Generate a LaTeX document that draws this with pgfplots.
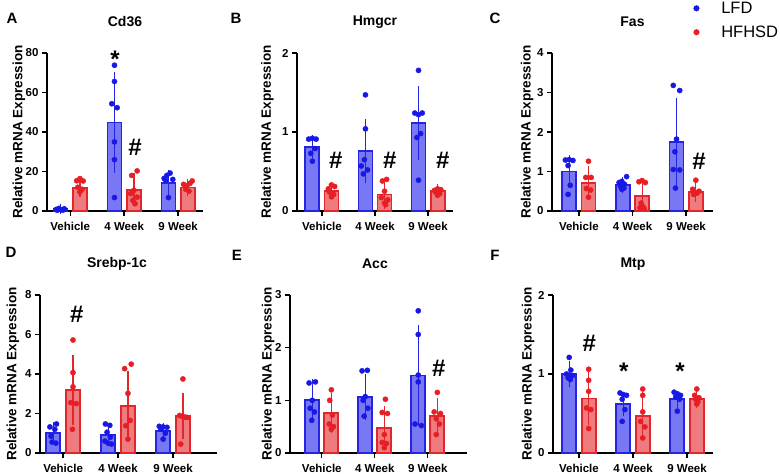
\documentclass[border=0pt]{standalone}
\usepackage{fontspec}
\setmainfont{Liberation Sans}
\usepackage{pgfplots}
\pgfplotsset{compat=1.18}
\definecolor{lfdE}{HTML}{2424E2}
\definecolor{lfdF}{HTML}{7878F4}
\definecolor{lfdP}{HTML}{1818E6}
\definecolor{hfE}{HTML}{E2262C}
\definecolor{hfF}{HTML}{EE7C7E}
\definecolor{hfP}{HTML}{E81E25}
\tikzset{sig/.style={font=\bfseries\fontsize{24}{24}\selectfont, anchor=center}}
\pgfplotsset{
  panel/.style={
    scale only axis, height=158pt, anchor=south west,
    axis x line*=bottom, axis y line*=left,
    axis line style={line width=1.4pt, black},
    tick style={line width=1.4pt, black}, tick align=outside, major tick length=5pt,
    xtick={0,1,2}, xticklabels={Vehicle,4 Week,9 Week},
    ymin=0, clip=false,
    ticklabel style={font=\bfseries\fontsize{11.5}{12}\selectfont},
    xticklabel style={yshift=-3pt},
    /pgf/number format/assume math mode=true,
    ylabel={Relative mRNA Expression},
    ylabel style={font=\bfseries\fontsize{13.5}{14}\selectfont, anchor=center},
    title style={font=\bfseries\fontsize{14}{15}\selectfont, anchor=center},
  },
  lfdbar/.style={ybar, bar width=14pt, bar shift=0pt, fill=lfdF, draw=lfdE, line width=1.8pt, forget plot,
    error bars/.cd, y dir=both, y explicit, error bar style={line width=1.2pt, lfdE},
    error mark options={line width=1.2pt, mark size=4pt, lfdE}},
  hfbar/.style={ybar, bar width=14pt, bar shift=0pt, fill=hfF, draw=hfE, line width=1.8pt, forget plot,
    error bars/.cd, y dir=both, y explicit, error bar style={line width=1.2pt, hfE},
    error mark options={line width=1.2pt, mark size=4pt, hfE}},
  lfdpts/.style={only marks, mark=*, mark size=2.6pt, lfdP, forget plot},
  hfpts/.style={only marks, mark=*, mark size=2.6pt, hfP, forget plot},
}
\begin{document}
\begin{tikzpicture}
\useasboundingbox (0,0) rectangle (780pt,474pt);
% ---------------- A: Cd36
\begin{axis}[panel, at={(47pt,263pt)}, width=156pt, xmin=-0.43, xmax=2.46, ymax=80, ytick={0,20,40,60,80},
  title={Cd36}, title style={at={(axis description cs:0.5,1)}, yshift=25pt},
  ylabel style={at={(axis description cs:-0.18,0.5)}}]
\addplot[lfdbar] coordinates {(-0.18,1.0) +- (0,0.6) (0.82,44.8) +- (0,23.5) (1.82,14.3) +- (0,4.2)};
\addplot[hfbar] coordinates {(0.18,11.8) +- (0,2.5) (1.18,10.8) +- (0,6.4) (2.18,11.9) +- (0,2.4)};
\addplot[lfdpts] coordinates {(-0.26,0.8) (-0.21,1.3) (-0.16,0.6) (-0.11,1.1) (-0.24,0.4) (-0.13,0.5)
  (0.82,73.8) (0.82,65.6) (0.77,54.3) (0.87,52.3) (0.82,35) (0.82,26) (0.82,6.8)
  (1.74,16.5) (1.79,18) (1.85,19.2) (1.9,16) (1.77,15.5) (1.82,6.8)};
\addplot[hfpts] coordinates {(0.12,15.3) (0.18,16.4) (0.24,15.2) (0.14,12) (0.22,11) (0.18,9.6)
  (1.24,20.3) (1.14,18) (1.18,10.5) (1.12,8.8) (1.24,7) (1.16,5.4) (1.2,3.7)
  (2.1,13.5) (2.16,12.8) (2.22,14) (2.26,15.2) (2.14,11) (2.2,10)};
\node[sig] at (axis cs:0.83,77) {*};
\node[sig] at (axis cs:1.2,32) {\#};
\end{axis}
% ---------------- B: Hmgcr
\begin{axis}[panel, at={(297pt,263pt)}, width=156pt, xmin=-0.47, xmax=2.47, ymax=2, ytick={0,1,2},
  title={Hmgcr}, title style={at={(axis description cs:0.5,1)}, yshift=25pt},
  ylabel style={at={(axis description cs:-0.19,0.5)}}]
\addplot[lfdbar] coordinates {(-0.18,0.81) +- (0,0.10) (0.82,0.76) +- (0,0.36) (1.82,1.11) +- (0,0.42)};
\addplot[hfbar] coordinates {(0.18,0.25) +- (0,0.05) (1.18,0.21) +- (0,0.13) (2.18,0.25) +- (0,0.04)};
\addplot[lfdpts] coordinates {(-0.25,0.91) (-0.18,0.92) (-0.11,0.91) (-0.21,0.73) (-0.18,0.63) (-0.13,0.79)
  (0.82,1.47) (0.82,1.04) (0.8,0.65) (0.74,0.57) (0.86,0.52) (0.78,0.47)
  (1.82,1.78) (1.75,1.24) (1.82,1.22) (1.89,1.24) (1.79,0.93) (1.86,0.98) (1.82,0.39)};
\addplot[hfpts] coordinates {(0.12,0.28) (0.18,0.33) (0.24,0.31) (0.14,0.24) (0.22,0.21) (0.18,0.18)
  (1.14,0.38) (1.22,0.40) (1.18,0.25) (1.12,0.17) (1.24,0.14) (1.18,0.1) (1.2,0.08)
  (2.12,0.26) (2.18,0.28) (2.24,0.27) (2.14,0.24) (2.22,0.22) (2.18,0.2)};
\node[sig] at (axis cs:0.26,0.64) {\#};
\node[sig] at (axis cs:1.28,0.64) {\#};
\node[sig] at (axis cs:2.28,0.64) {\#};
\end{axis}
% ---------------- C: Fas
\begin{axis}[panel, at={(552pt,263pt)}, width=161pt, xmin=-0.5, xmax=2.5, ymax=4, ytick={0,1,2,3,4},
  title={Fas}, title style={at={(axis description cs:0.5,1)}, yshift=25pt},
  ylabel style={at={(axis description cs:-0.155,0.5)}},
  legend style={at={(0.86,1.35)}, anchor=north west, draw=none, fill=none,
    font=\fontsize{16.5}{17}\selectfont, row sep=7pt, legend cell align=left,
    /tikz/every odd column/.append style={column sep=20pt}}]
\addlegendimage{only marks, mark=*, mark size=2.8pt, lfdP}
\addlegendentry{LFD}
\addlegendimage{only marks, mark=*, mark size=2.8pt, hfP}
\addlegendentry{HFHSD}
\addplot[lfdbar] coordinates {(-0.18,1.0) +- (0,0.31) (0.82,0.65) +- (0,0.1) (1.82,1.75) +- (0,1.01)};
\addplot[hfbar] coordinates {(0.18,0.71) +- (0,0.33) (1.18,0.38) +- (0,0.24) (2.18,0.48) +- (0,0.15)};
\addplot[lfdpts] coordinates {(-0.25,1.29) (-0.18,1.30) (-0.11,1.28) (-0.2,1.15) (-0.16,0.65) (-0.2,0.42)
  (0.75,0.72) (0.8,0.75) (0.89,0.87) (0.85,0.68) (0.78,0.62) (0.84,0.58) (0.8,0.55)
  (1.76,3.18) (1.88,3.05) (1.82,1.82) (1.79,1.5) (1.76,1.05) (1.88,1.04) (1.8,0.58)};
\addplot[hfpts] coordinates {(0.18,1.26) (0.13,0.85) (0.23,0.85) (0.14,0.57) (0.22,0.53) (0.18,0.35)
  (1.12,0.74) (1.18,0.77) (1.24,0.72) (1.16,0.2) (1.2,0.1) (1.14,0.08) (1.22,0.05)
  (2.18,0.78) (2.12,0.55) (2.24,0.5) (2.16,0.48) (2.2,0.45) (2.14,0.42)};
\node[sig] at (axis cs:2.24,1.25) {\#};
\end{axis}
% ---------------- D: Srebp-1c
\begin{axis}[panel, at={(40pt,21pt)}, width=177pt, xmin=-0.42, xmax=2.8, ymax=8, ytick={0,2,4,6,8},
  title={Srebp-1c}, title style={at={(axis description cs:0.435,1)}, yshift=25pt},
  ylabel style={at={(axis description cs:-0.153,0.5)}}]
\addplot[lfdbar] coordinates {(-0.18,1.0) +- (0,0.35) (0.82,0.9) +- (0,0.35) (1.82,1.1) +- (0,0.2)};
\addplot[hfbar] coordinates {(0.18,3.2) +- (0,1.58) (1.18,2.38) +- (0,1.55) (2.18,1.88) +- (0,0.97)};
\addplot[lfdpts] coordinates {(-0.24,1.32) (-0.12,1.47) (-0.15,1.2) (-0.22,0.85) (-0.2,0.55) (-0.13,0.5)
  (0.77,1.47) (0.85,1.4) (0.8,1.05) (0.86,0.8) (0.76,0.6) (0.82,0.5) (0.88,0.45)
  (1.75,1.35) (1.82,1.32) (1.89,1.3) (1.78,1.2) (1.86,1.0) (1.82,0.7)};
\addplot[hfpts] coordinates {(0.18,5.72) (0.18,4.07) (0.18,3.35) (0.14,2.55) (0.24,2.5) (0.17,1.2)
  (1.12,4.27) (1.24,4.5) (1.18,3.02) (1.22,1.65) (1.14,1.38) (1.18,0.7)
  (2.18,3.75) (2.12,1.9) (2.17,1.85) (2.22,1.82) (2.26,1.8) (2.14,0.45)};
\node[sig] at (axis cs:0.25,7.0) {\#};
\end{axis}
% ---------------- E: Acc
\begin{axis}[panel, at={(290pt,21pt)}, width=177pt, xmin=-0.6, xmax=2.74, ymax=3, ytick={0,1,2,3},
  title={Acc}, title style={at={(axis description cs:0.48,1)}, yshift=25pt},
  ylabel style={at={(axis description cs:-0.124,0.5)}}]
\addplot[lfdbar] coordinates {(-0.18,1.0) +- (0,0.33) (0.82,1.07) +- (0,0.36) (1.82,1.47) +- (0,0.88)};
\addplot[hfbar] coordinates {(0.18,0.76) +- (0,0.31) (1.18,0.48) +- (0,0.34) (2.18,0.7) +- (0,0.26)};
\addplot[lfdpts] coordinates {(-0.24,1.33) (-0.12,1.35) (-0.18,1.0) (-0.22,0.85) (-0.14,0.78) (-0.19,0.62)
  (0.76,1.56) (0.86,1.57) (0.82,1.07) (0.78,1.0) (0.87,0.85) (0.8,0.7)
  (1.82,2.7) (1.82,2.25) (1.82,1.48) (1.82,1.35) (1.76,0.55) (1.88,0.52)};
\addplot[hfpts] coordinates {(0.18,1.2) (0.15,1.0) (0.2,0.72) (0.14,0.55) (0.22,0.5) (0.18,0.45)
  (1.2,1.02) (1.14,0.77) (1.24,0.75) (1.18,0.35) (1.14,0.2) (1.22,0.18) (1.18,0.1)
  (2.18,1.15) (2.12,0.78) (2.24,0.75) (2.16,0.65) (2.22,0.55) (2.16,0.35)};
\node[sig] at (axis cs:2.21,1.6) {\#};
\end{axis}
% ---------------- F: Mtp
\begin{axis}[panel, at={(553pt,21pt)}, width=160pt, xmin=-0.48, xmax=2.48, ymax=2, ytick={0,1,2},
  title={Mtp}, title style={at={(axis description cs:0.5,1)}, yshift=25pt},
  ylabel style={at={(axis description cs:-0.156,0.5)}}]
\addplot[lfdbar] coordinates {(-0.18,1.0) +- (0,0.12) (0.82,0.62) +- (0,0.1) (1.82,0.68) +- (0,0.06)};
\addplot[hfbar] coordinates {(0.18,0.69) +- (0,0.28) (1.18,0.47) +- (0,0.25) (2.18,0.68) +- (0,0.06)};
\addplot[lfdpts] coordinates {(-0.18,1.21) (-0.15,1.05) (-0.23,1.0) (-0.12,0.98) (-0.2,0.95) (-0.16,0.93)
  (0.76,0.76) (0.82,0.74) (0.88,0.73) (0.8,0.68) (0.85,0.55) (0.8,0.4)
  (1.76,0.77) (1.82,0.75) (1.88,0.73) (1.79,0.71) (1.86,0.68) (1.82,0.53)};
\addplot[hfpts] coordinates {(0.18,1.06) (0.18,0.92) (0.18,0.78) (0.14,0.57) (0.22,0.55) (0.18,0.31)
  (1.18,0.81) (1.18,0.73) (1.18,0.52) (1.14,0.4) (1.22,0.33) (1.18,0.19)
  (2.18,0.81) (2.14,0.73) (2.22,0.70) (2.16,0.68) (2.2,0.65) (2.18,0.62)};
\node[sig] at (axis cs:0.19,1.39) {\#};
\node[sig] at (axis cs:0.83,1.03) {*};
\node[sig] at (axis cs:1.87,1.03) {*};
\end{axis}
% panel letters
\node[font=\bfseries\fontsize{15}{15}\selectfont] at (12pt,456pt) {A};
\node[font=\bfseries\fontsize{15}{15}\selectfont] at (236pt,456pt) {B};
\node[font=\bfseries\fontsize{15}{15}\selectfont] at (495pt,456pt) {C};
\node[font=\bfseries\fontsize{15}{15}\selectfont] at (11pt,222pt) {D};
\node[font=\bfseries\fontsize{15}{15}\selectfont] at (237pt,219pt) {E};
\node[font=\bfseries\fontsize{15}{15}\selectfont] at (495pt,219pt) {F};
\end{tikzpicture}
\end{document}
